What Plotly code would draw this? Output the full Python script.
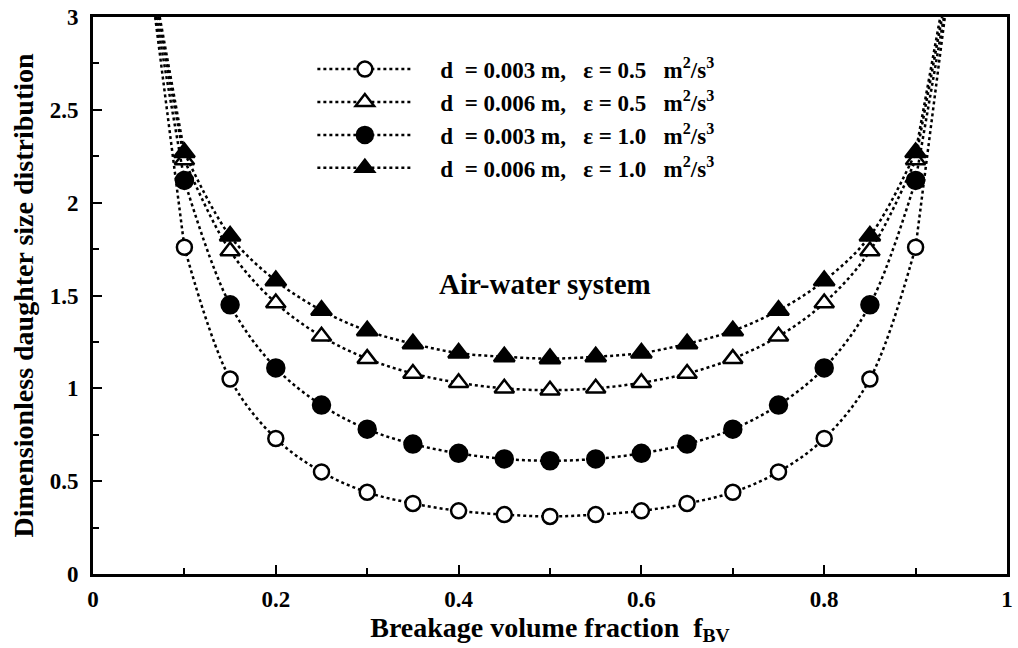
import plotly.graph_objects as go

x_pts = [0.10, 0.15, 0.20, 0.25, 0.30, 0.35, 0.40, 0.45, 0.50,
         0.55, 0.60, 0.65, 0.70, 0.75, 0.80, 0.85, 0.90]

y_d003_e05 = [1.76, 1.05, 0.73, 0.55, 0.44, 0.38, 0.34, 0.32, 0.31,
              0.32, 0.34, 0.38, 0.44, 0.55, 0.73, 1.05, 1.76]
y_d006_e05 = [2.23, 1.74, 1.46, 1.28, 1.16, 1.08, 1.03, 1.00, 0.99,
              1.00, 1.03, 1.08, 1.16, 1.28, 1.46, 1.74, 2.23]
y_d003_e10 = [2.12, 1.45, 1.11, 0.91, 0.78, 0.70, 0.65, 0.62, 0.61,
              0.62, 0.65, 0.70, 0.78, 0.91, 1.11, 1.45, 2.12]
y_d006_e10 = [2.27, 1.82, 1.58, 1.42, 1.31, 1.24, 1.19, 1.17, 1.16,
              1.17, 1.19, 1.24, 1.31, 1.42, 1.58, 1.82, 2.27]

# where each dotted curve leaves the top of the frame
top_x_left = [0.068, 0.071, 0.069, 0.073]
top_x_right = [0.932, 0.929, 0.931, 0.927]
y_top = 3.0

x_tick_vals = [0, 0.2, 0.4, 0.6, 0.8, 1]
x_tick_text = ["0", "0.2", "0.4", "0.6", "0.8", "1"]
y_tick_vals = [0, 0.5, 1, 1.5, 2, 2.5, 3]
y_tick_text = ["0", "0.5", "1", "1.5", "2", "2.5", "3"]

NB = "\u00a0"
lead = NB * 4
names = [f"{lead}d{NB}{NB}= 0.003 m,{NB}{NB}{NB}\u03b5 = 0.5{NB}{NB}{NB}m<sup>2</sup>/s<sup>3</sup>",
         f"{lead}d{NB}{NB}= 0.006 m,{NB}{NB}{NB}\u03b5 = 0.5{NB}{NB}{NB}m<sup>2</sup>/s<sup>3</sup>",
         f"{lead}d{NB}{NB}= 0.003 m,{NB}{NB}{NB}\u03b5 = 1.0{NB}{NB}{NB}m<sup>2</sup>/s<sup>3</sup>",
         f"{lead}d{NB}{NB}= 0.006 m,{NB}{NB}{NB}\u03b5 = 1.0{NB}{NB}{NB}m<sup>2</sup>/s<sup>3</sup>"]
series = [y_d003_e05, y_d006_e05, y_d003_e10, y_d006_e10]
symbols = ["circle", "triangle-up", "circle", "triangle-up"]
fills = ["white", "white", "black", "black"]
sizes = [15, 17, 17, 18]

FONT = "Liberation Serif"
fig = go.Figure()
line_style = dict(color="black", width=2.5, dash="dot", shape="spline", smoothing=1.0)

for i, ys in enumerate(series):
    fig.add_trace(go.Scatter(x=[top_x_left[i], x_pts[0]], y=[y_top, ys[0]],
                             mode="lines", line=line_style, showlegend=False,
                             hoverinfo="skip"))
    fig.add_trace(go.Scatter(x=[x_pts[-1], top_x_right[i]], y=[ys[-1], y_top],
                             mode="lines", line=line_style, showlegend=False,
                             hoverinfo="skip"))
    fig.add_trace(go.Scatter(
        x=x_pts, y=ys, mode="lines+markers", name=names[i],
        line=line_style,
        marker=dict(symbol=symbols[i], size=sizes[i], color=fills[i],
                    line=dict(color="black", width=2.5)),
    ))

fig.add_annotation(x=0.494, y=1.56, xref="x", yref="y", text="Air-water system",
                   showarrow=False,
                   font=dict(family=FONT, size=29, color="black", weight="bold"))

TICKFONT = dict(family=FONT, size=23, color="black", weight="bold")

def axis_common(label_standoff):
    return dict(showline=True, linecolor="black", linewidth=3, mirror=True,
                ticks="inside", tickcolor="black", ticklen=9, tickwidth=2,
                showgrid=False, zeroline=False, ticklabelstandoff=label_standoff,
                tickfont=TICKFONT)

fig.update_xaxes(range=[0, 1], tickmode="array", tickvals=x_tick_vals,
                 ticktext=x_tick_text,
                 minor=dict(tickvals=[0.1, 0.3, 0.5, 0.7, 0.9], ticks="inside",
                            ticklen=6, tickwidth=2, tickcolor="black"),
                 title=dict(text="Breakage volume fraction  f<sub>BV</sub>",
                            font=dict(family=FONT, size=28, color="black", weight="bold"),
                            standoff=6),
                 **axis_common(2))
fig.update_yaxes(range=[0, 3], tickmode="array", tickvals=y_tick_vals,
                 ticktext=y_tick_text,
                 minor=dict(tickvals=[0.25, 0.75, 1.25, 1.75, 2.25, 2.75], ticks="inside",
                            ticklen=6, tickwidth=2, tickcolor="black"),
                 title=dict(text="Dimensionless daughter size distribution",
                            font=dict(family=FONT, size=28, color="black", weight="bold"),
                            standoff=8),
                 **axis_common(7))

fig.update_layout(
    width=1018, height=648,
    margin=dict(l=93, r=5, t=16, b=74),
    paper_bgcolor="white", plot_bgcolor="white",
    legend=dict(x=0.24, y=0.945, xanchor="left", yanchor="top",
                bgcolor="rgba(0,0,0,0)", itemwidth=95,
                font=dict(family=FONT, size=23, color="black", weight="bold"),
                tracegroupgap=0),
    font=dict(family=FONT, size=23, color="black"),
)

fig.write_html("out.html")
